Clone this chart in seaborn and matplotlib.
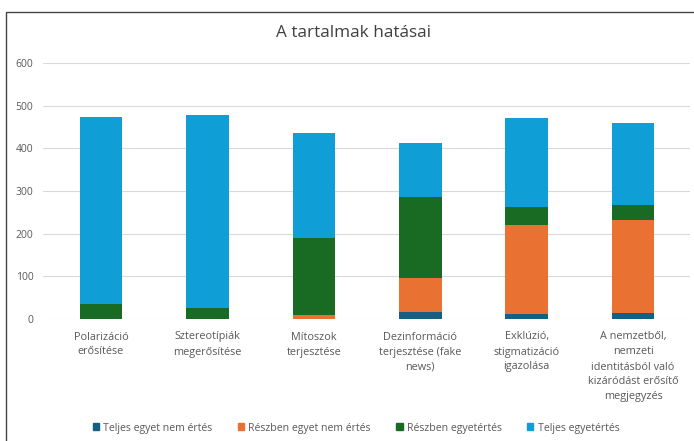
import numpy as np
import pandas as pd
import seaborn as sns
import matplotlib.pyplot as plt
from matplotlib.patches import Patch, Rectangle

# adatok
kategoriak = ['Polarizáció\nerősítése', 'Sztereotípiák\nmegerősítése', 'Mítoszok\nterjesztése',
              'Dezinformáció\nterjesztése (fake\nnews)', 'Exklúzió,\nstigmatizáció\nigazolása',
              'A nemzetből,\nnemzeti\nidentitásból való\nkizáródást erősítő\nmegjegyzés']
sorozatok = ['Teljes egyet nem értés', 'Részben egyet nem értés', 'Részben egyetértés', 'Teljes egyetértés']
teljes_nem = [0, 0, 1, 16, 11, 15]
reszben_nem = [0, 0, 9, 80, 209, 218]
reszben_igen = [35, 26, 180, 190, 42, 35]
teljes_igen = [438, 451, 245, 126, 208, 192]
szinek = ['#156082', '#E97132', '#196B24', '#0F9ED5']

sns.set_theme(style='white')
plt.rcParams['font.family'] = ['Open Sans', 'DejaVu Sans']
szurke = '#595959'

df = pd.DataFrame({'kat': kategoriak})
ertekek = np.array([teljes_nem, reszben_nem, reszben_igen, teljes_igen])
kum = ertekek.cumsum(axis=0)

fig = plt.figure(figsize=(6.94, 4.41), dpi=100)
ax = fig.add_axes([43 / 694, 122 / 441, 647 / 694, 256 / 441])

# halmozott oszlopok: felülről lefelé rajzolva
for i in range(3, -1, -1):
    df['v'] = kum[i]
    sns.barplot(data=df, x='kat', y='v', color=szinek[i], width=0.4,
                saturation=1, ax=ax, zorder=3, linewidth=0)

ax.set_xlim(-0.545, 5.535)
ax.set_ylim(0, 600)
ax.set_yticks(range(0, 601, 100))
ax.yaxis.grid(True, color='#d9d9d9', linewidth=0.8, zorder=0)
ax.set_xlabel('')
ax.set_ylabel('')
for s in ax.spines.values():
    s.set_visible(False)
ax.tick_params(axis='both', length=0, colors=szurke)
ax.tick_params(axis='y', pad=7, labelsize=7.5)
ax.tick_params(axis='x', pad=9, labelsize=7.8)
for t in ax.get_xticklabels():
    t.set_linespacing(1.5)

fig.text(353 / 694, 1 - 33 / 441, 'A tartalmak hatásai', ha='center', va='center',
         fontsize=12.3, color='#404040')

handles = [Patch(color=c, label=l) for c, l in zip(szinek, sorozatok)]
fig.legend(handles=handles, loc='center', bbox_to_anchor=(356 / 694, 13 / 441), ncol=4,
           frameon=False, fontsize=7.6, labelcolor=szurke, handlelength=0.6,
           handleheight=0.6, handletextpad=0.4, columnspacing=2.4)

fig.patches.append(Rectangle((6 / 694, -10 / 441), 700 / 694, 439 / 441, transform=fig.transFigure,
                             fill=False, edgecolor='#444444', linewidth=1))

fig.savefig('out.png', dpi=100)
